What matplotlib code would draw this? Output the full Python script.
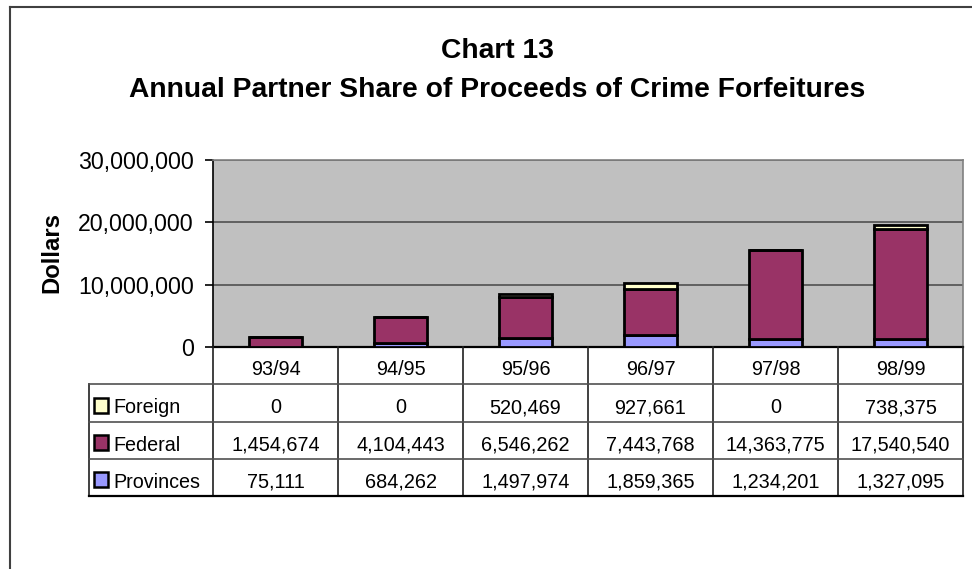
import matplotlib
matplotlib.use("Agg")
import matplotlib.pyplot as plt
from matplotlib.patches import Rectangle
from matplotlib.lines import Line2D
from matplotlib.ticker import FuncFormatter

plt.rcParams['font.family'] = ['Liberation Sans', 'DejaVu Sans']

# Fiscal years and partner shares (dollars)
years = ["93/94", "94/95", "95/96", "96/97", "97/98", "98/99"]
foreign = [0, 0, 520469, 927661, 0, 738375]
federal = [1454674, 4104443, 6546262, 7443768, 14363775, 17540540]
provinces = [75111, 684262, 1497974, 1859365, 1234201, 1327095]
series_names = ["Foreign", "Federal", "Provinces"]
y_ticks = [0, 10000000, 20000000, 30000000]

c_foreign = "#FFFFCC"
c_federal = "#993366"
c_prov = "#9999FF"

W, H = 972, 569
fig = plt.figure(figsize=(W / 100, H / 100), dpi=100)


def px_rect(x0, y0, x1, y1):
    return [x0 / W, 1 - y1 / H, (x1 - x0) / W, (y1 - y0) / H]


# Outer chart frame (top and left edges)
fig.add_artist(Line2D([9.5 / W, 9.5 / W], [0, 1 - 7 / H], color="#404040", lw=1.5,
                      transform=fig.transFigure))
fig.add_artist(Line2D([9.5 / W, 1], [1 - 7 / H, 1 - 7 / H], color="#404040", lw=1.5,
                      transform=fig.transFigure))

# Title
fig.text(497.5 / W, 1 - 58 / H, "Chart 13", ha="center", va="baseline",
         fontsize=20.3, fontweight="bold")
fig.text(497.5 / W, 1 - 97 / H, "Annual Partner Share of Proceeds of Crime Forfeitures",
         ha="center", va="baseline", fontsize=20.3, fontweight="bold")

# Plot area
ax = fig.add_axes(px_rect(213, 160, 963, 347))
ax.set_facecolor("#C0C0C0")
x = list(range(len(years)))
bw = 0.42
edge = dict(edgecolor="black", linewidth=2.0)
ax.bar(x, provinces, bw, color=c_prov, zorder=3, **edge)
ax.bar(x, federal, bw, bottom=provinces, color=c_federal, zorder=3, **edge)
bottoms2 = [p + f for p, f in zip(provinces, federal)]
ax.bar(x, foreign, bw, bottom=bottoms2, color=c_foreign, zorder=3, **edge)

ax.set_xlim(-0.5, len(years) - 0.5)
ax.set_ylim(0, 30000000)
ax.set_yticks(y_ticks)
ax.yaxis.set_major_formatter(FuncFormatter(lambda v, p: f"{int(v):,}"))
ax.tick_params(axis="y", labelsize=16.7, length=6, width=1.2, pad=8, color="black")
ax.set_xticks([])
ax.grid(axis="y", color="#505050", linewidth=1.2, zorder=1)
for s in ["top", "right"]:
    ax.spines[s].set_color("#808080")
    ax.spines[s].set_linewidth(1.2)
ax.spines["left"].set_color("black")
ax.spines["left"].set_linewidth(1.2)
ax.spines["bottom"].set_color("black")
ax.spines["bottom"].set_linewidth(1.6)

fig.text(51.5 / W, 1 - 252.5 / H, "Dollars", rotation=90, ha="center", va="center",
         fontsize=17.2, fontweight="bold")

# Data table below the plot
tab = fig.add_axes(px_rect(213, 347, 963, 496))
tab.set_xlim(-0.5, len(years) - 0.5)
tab.set_ylim(4, 0)
tab.axis("off")
left_edge = -0.5 - 124 / 125
lc = "#202020"
lw = 1.2
for k in range(len(years) + 1):
    tab.plot([-0.5 + k, -0.5 + k], [0, 4], color=lc, lw=lw, clip_on=False)
tab.plot([left_edge, left_edge], [1, 4], color=lc, lw=lw, clip_on=False)
for r in [1, 2, 3]:
    tab.plot([left_edge, len(years) - 0.5], [r, r], color="#505050", lw=lw, clip_on=False)
tab.plot([left_edge, len(years) - 0.5], [4, 4], color="black", lw=1.6, clip_on=False)

for i, yr in enumerate(years):
    tab.text(i, 0.74, yr, ha="center", va="baseline", fontsize=14.3)

rows = [foreign, federal, provinces]
colors = [c_foreign, c_federal, c_prov]
for r, (name, vals, col) in enumerate(zip(series_names, rows, colors), start=1):
    tab.add_patch(Rectangle((left_edge + 4.5 / 125, r + 0.36), 14 / 125, 0.40,
                            facecolor=col, edgecolor="black", linewidth=1.8,
                            clip_on=False))
    tab.text(left_edge + 24 / 125, r + 0.78, name, ha="left", va="baseline",
             fontsize=14.2)
    for i, v in enumerate(vals):
        tab.text(i, r + 0.78, f"{v:,}", ha="center", va="baseline", fontsize=14.3)

fig.savefig("out.png", dpi=100)
